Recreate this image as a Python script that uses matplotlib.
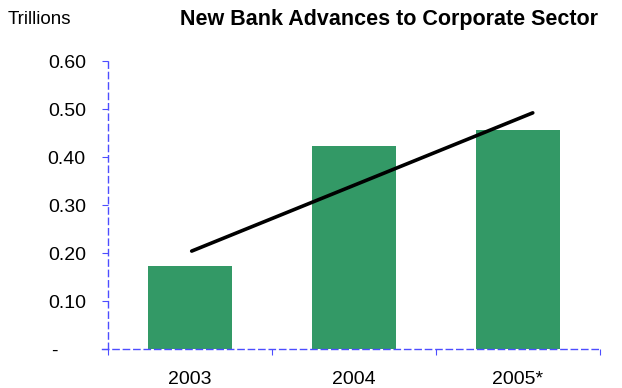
import matplotlib
matplotlib.use('Agg')
from matplotlib import pyplot as plt

years = ['2003', '2004', '2005*']
advances = [0.173, 0.423, 0.456]
# trend line ends (x in category units, y in trillions)
trend_x = [0.51, 2.59]
trend_y = [0.204, 0.492]
y_ticks = [0, 0.1, 0.2, 0.3, 0.4, 0.5, 0.6]
y_labels = ['-     ', '0.10', '0.20', '0.30', '0.40', '0.50', '0.60']

plt.rcParams['font.family'] = ['Liberation Sans', 'DejaVu Sans']

fig = plt.figure(figsize=(6.22, 3.88), dpi=100)
ax = fig.add_axes([102 / 622, 1 - 349 / 388, 498 / 622, 288 / 388])

centers = [i + 0.5 for i in range(len(years))]
ax.bar(centers, advances, width=0.51, color='#339966', zorder=2)
ax.plot(trend_x, trend_y, color='black', linewidth=2.6, solid_capstyle='round', zorder=3)

ax.set_xlim(-0.037, 3)
ax.set_ylim(0, 0.6)

axis_blue = '#4d4dff'
for side in ['top', 'right']:
    ax.spines[side].set_visible(False)
for side in ['left', 'bottom']:
    ax.spines[side].set_color(axis_blue)
    ax.spines[side].set_linestyle((0, (4.5, 3)))
    ax.spines[side].set_linewidth(1)
ax.spines['left'].set_position(('data', 0))

ax.set_yticks(y_ticks)
ax.set_yticklabels(y_labels)
ax.tick_params(axis='y', direction='out', length=4, color=axis_blue, labelsize=14, pad=12)

ax.set_xticks([0, 1, 2, 3])
ax.set_xticklabels([])
ax.set_xticks(centers, minor=True)
ax.set_xticklabels(years, minor=True)
ax.tick_params(axis='x', which='major', direction='out', length=4, color=axis_blue)
ax.tick_params(axis='x', which='minor', length=0, labelsize=14, pad=16)

fig.text(8 / 622, 1 - 20 / 388, 'Trillions', fontsize=13.5, va='center', ha='left')
fig.text(389 / 622, 1 - 20 / 388, 'New Bank Advances to Corporate Sector',
         fontsize=15.5, fontweight='bold', va='center', ha='center')

fig.savefig('out.png', dpi=100)
